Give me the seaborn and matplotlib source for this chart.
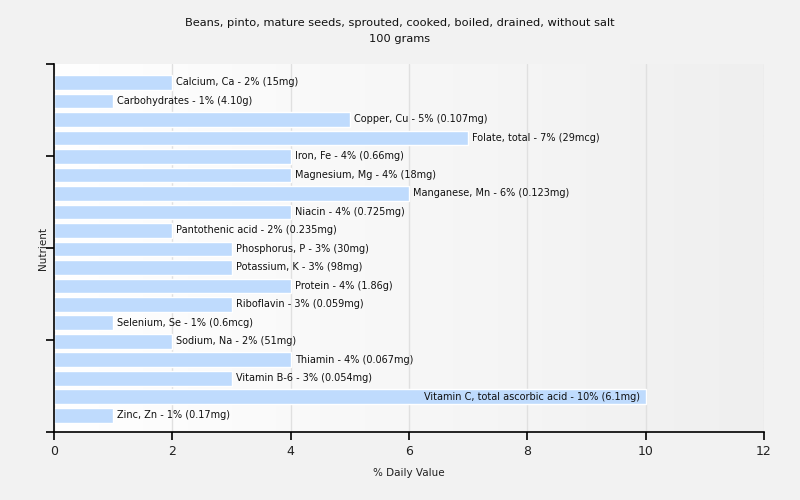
import numpy as np
import pandas as pd
import matplotlib
matplotlib.use("Agg")
import matplotlib.pyplot as plt
from matplotlib.colors import LinearSegmentedColormap
import seaborn as sns

nutrients = [
    "Calcium, Ca", "Carbohydrates", "Copper, Cu", "Folate, total", "Iron, Fe",
    "Magnesium, Mg", "Manganese, Mn", "Niacin", "Pantothenic acid",
    "Phosphorus, P", "Potassium, K", "Protein", "Riboflavin", "Selenium, Se",
    "Sodium, Na", "Thiamin", "Vitamin B-6", "Vitamin C, total ascorbic acid",
    "Zinc, Zn",
]
daily_pct = [2, 1, 5, 7, 4, 4, 6, 4, 2, 3, 3, 4, 3, 1, 2, 4, 3, 10, 1]
amounts = [
    "15mg", "4.10g", "0.107mg", "29mcg", "0.66mg", "18mg", "0.123mg",
    "0.725mg", "0.235mg", "30mg", "98mg", "1.86g", "0.059mg", "0.6mcg",
    "51mg", "0.067mg", "0.054mg", "6.1mg", "0.17mg",
]

df = pd.DataFrame({"Nutrient": nutrients, "pct": daily_pct, "amount": amounts})

sns.set_theme(style="white")
plt.rcParams["font.family"] = ["DejaVu Sans"]

fig = plt.figure(figsize=(8, 5), dpi=100, facecolor="#f2f2f2")
ax = fig.add_axes([0.0675, 0.136, 0.8875, 0.736])

# soft horizontal gradient in the plot area
grad = LinearSegmentedColormap.from_list("bg", ["#ffffff", "#efefef"])
ax.imshow(np.linspace(0, 1, 256).reshape(1, -1), cmap=grad, aspect="auto",
          extent=(0, 12, 18.9, -1), zorder=0)

sns.barplot(data=df, x="pct", y="Nutrient", orient="h", color="#bfdbfd",
            saturation=1, width=0.8, ax=ax, zorder=2)

ax.set_xlim(0, 12)
ax.set_ylim(18.9, -1)
ax.set_xticks(range(0, 13, 2))
ax.set_yticks(np.linspace(-1, 18.9, 5))
ax.set_yticklabels([])
ax.set_axisbelow(True)
ax.grid(axis="x", color="#e0e0e0", linewidth=1)

for sp in ["top", "right"]:
    ax.spines[sp].set_visible(False)
for sp in ["left", "bottom"]:
    ax.spines[sp].set_color("black")
    ax.spines[sp].set_linewidth(1.2)
    ax.spines[sp].set_zorder(5)

ax.tick_params(axis="both", which="both", direction="out", length=6,
               width=1.2, color="black", left=True, bottom=True,
               labelsize=9, labelcolor="#222222")

for i, row in df.iterrows():
    label = f"{row['Nutrient']} - {row['pct']}% ({row['amount']})"
    if row["pct"] >= 9:
        ax.text(row["pct"] - 0.1, i, label, va="center", ha="right",
                fontsize=7, color="#111111", zorder=4)
    else:
        ax.text(row["pct"] + 0.07, i, label, va="center", ha="left",
                fontsize=7, color="#111111", zorder=4)

ax.set_xlabel("% Daily Value", fontsize=7.5, color="#222222", labelpad=7)
ax.set_ylabel("Nutrient", fontsize=7.5, color="#222222", labelpad=-5)
fig.suptitle("Beans, pinto, mature seeds, sprouted, cooked, boiled, drained, without salt\n100 grams",
             fontsize=8.2, color="#111111", y=0.963, linespacing=1.75)

fig.savefig("out.png", dpi=100, facecolor=fig.get_facecolor())
